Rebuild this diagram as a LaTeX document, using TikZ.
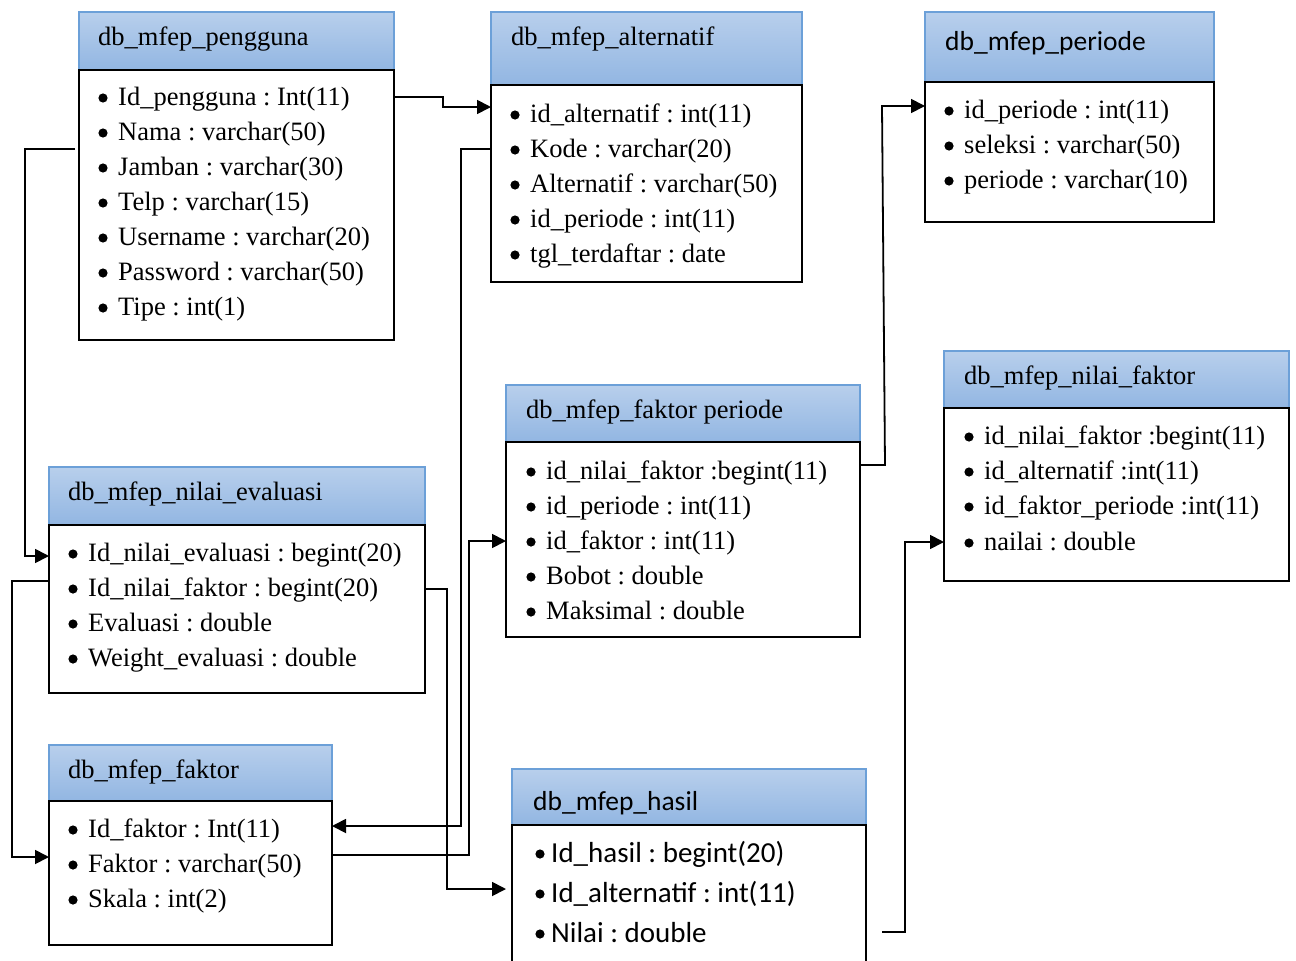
\documentclass[tikz,border=0pt]{standalone}
\usepackage{fontspec}
\setmainfont{Liberation Serif}
\newfontfamily\calfont{Carlito}
\usetikzlibrary{arrows.meta}
\definecolor{hdrtop}{RGB}{184,207,236}
\definecolor{hdrbot}{RGB}{146,182,226}
\definecolor{hdrline}{RGB}{108,160,216}

\begin{document}
\frenchspacing
\begin{tikzpicture}[x=1pt,y=-1pt,
  hdr/.style={draw=hdrline, line width=1.3pt, top color=hdrtop, bottom color=hdrbot,
    anchor=north west, inner sep=0pt, outer sep=0pt},
  body/.style={draw=black, line width=1.4pt, fill=white,
    anchor=north west, inner sep=0pt, outer sep=0pt},
  ttl/.style={anchor=base west, inner sep=0pt, font=\fontsize{26.5}{30}\selectfont},
  calttl/.style={anchor=base west, inner sep=0pt, font=\calfont\fontsize{27.5}{30}\selectfont},
  row/.style={anchor=base west, inner sep=0pt, font=\fontsize{26.5}{30}\selectfont},
  calrow/.style={anchor=base west, inner sep=0pt, font=\calfont\fontsize{29}{30}\selectfont},
  conn/.style={draw=black, line width=1.8pt, -{Triangle[length=14pt,width=14pt]}}
]
\clip (0,0) rectangle (1296,961);
\fill[white] (0,0) rectangle (1296,961);

% db_mfep_pengguna
\node[hdr, minimum width=315pt, minimum height=58pt] (pgH) at (79,12) {};
\node[body, minimum width=315pt, minimum height=270pt] (pgB) at (79,70) {};
\node[ttl] (pgT) at (98,45) {db\_mfep\_pengguna};
\node[row] (pg1) at (118,105) {Id\_pengguna : Int(11)};
\node[row] (pg2) at (118,140) {Nama : varchar(50)};
\node[row] (pg3) at (118,175) {Jamban : varchar(30)};
\node[row] (pg4) at (118,210) {Telp : varchar(15)};
\node[row] (pg5) at (118,245) {Username : varchar(20)};
\node[row] (pg6) at (118,280) {Password : varchar(50)};
\node[row] (pg7) at (118,315) {Tipe : int(1)};

% db_mfep_alternatif
\node[hdr, minimum width=311pt, minimum height=73pt] (alH) at (491,12) {};
\node[body, minimum width=311pt, minimum height=197pt] (alB) at (491,85) {};
\node[ttl] (alT) at (511,45) {db\_mfep\_alternatif};
\node[row] (al1) at (530,122) {id\_alternatif : int(11)};
\node[row] (al2) at (530,157) {Kode : varchar(20)};
\node[row] (al3) at (530,192) {Alternatif : varchar(50)};
\node[row] (al4) at (530,227) {id\_periode : int(11)};
\node[row] (al5) at (530,262) {tgl\_terdaftar : date};

% db_mfep_periode
\node[hdr, minimum width=289pt, minimum height=70pt] (peH) at (925,12) {};
\node[body, minimum width=289pt, minimum height=140pt] (peB) at (925,82) {};
\node[calttl] (peT) at (945,50) {db\_mfep\_periode};
\node[row] (pe1) at (964,118) {id\_periode : int(11)};
\node[row] (pe2) at (964,153) {seleksi : varchar(50)};
\node[row] (pe3) at (964,188) {periode : varchar(10)};

% db_mfep_faktor periode
\node[hdr, minimum width=354pt, minimum height=57pt] (fpH) at (506,385) {};
\node[body, minimum width=354pt, minimum height=195pt] (fpB) at (506,442) {};
\node[ttl] (fpT) at (526,418) {db\_mfep\_faktor periode};
\node[row] (fp1) at (546,479) {id\_nilai\_faktor :begint(11)};
\node[row] (fp2) at (546,514) {id\_periode : int(11)};
\node[row] (fp3) at (546,549) {id\_faktor : int(11)};
\node[row] (fp4) at (546,584) {Bobot : double};
\node[row] (fp5) at (546,619) {Maksimal : double};

% db_mfep_nilai_faktor
\node[hdr, minimum width=345pt, minimum height=57pt] (nfH) at (944,351) {};
\node[body, minimum width=345pt, minimum height=173pt] (nfB) at (944,408) {};
\node[ttl] (nfT) at (964,384) {db\_mfep\_nilai\_faktor};
\node[row] (nf1) at (984,444) {id\_nilai\_faktor :begint(11)};
\node[row] (nf2) at (984,479) {id\_alternatif :int(11)};
\node[row] (nf3) at (984,514) {id\_faktor\_periode :int(11)};
\node[row] (nf4) at (984,550) {nailai : double};

% db_mfep_nilai_evaluasi
\node[hdr, minimum width=376pt, minimum height=58pt] (evH) at (49,467) {};
\node[body, minimum width=376pt, minimum height=168pt] (evB) at (49,525) {};
\node[ttl] (evT) at (68,500) {db\_mfep\_nilai\_evaluasi};
\node[row] (ev1) at (88,561) {Id\_nilai\_evaluasi : begint(20)};
\node[row] (ev2) at (88,596) {Id\_nilai\_faktor : begint(20)};
\node[row] (ev3) at (88,631) {Evaluasi : double};
\node[row] (ev4) at (88,666) {Weight\_evaluasi : double};

% db_mfep_faktor
\node[hdr, minimum width=283pt, minimum height=56pt] (faH) at (49,745) {};
\node[body, minimum width=283pt, minimum height=144pt] (faB) at (49,801) {};
\node[ttl] (faT) at (68,778) {db\_mfep\_faktor};
\node[row] (fa1) at (88,837) {Id\_faktor : Int(11)};
\node[row] (fa2) at (88,872) {Faktor : varchar(50)};
\node[row] (fa3) at (88,907) {Skala : int(2)};

% db_mfep_hasil (runs past the lower edge)
\node[hdr, minimum width=354pt, minimum height=56pt] (haH) at (512,769) {};
\node[body, minimum width=354pt, minimum height=160pt] (haB) at (512,825) {};
\node[calttl] (haT) at (533,810) {db\_mfep\_hasil};
\node[calrow] (ha1) at (551,862) {Id\_hasil : begint(20)};
\node[calrow] (ha2) at (551,902) {Id\_alternatif : int(11)};
\node[calrow] (ha3) at (551,942) {Nilai : double};

% list bullets in front of every field
\foreach \f in {pg1,pg2,pg3,pg4,pg5,pg6,pg7,al1,al2,al3,al4,al5,pe1,pe2,pe3,
                fp1,fp2,fp3,fp4,fp5,nf1,nf2,nf3,nf4,ev1,ev2,ev3,ev4,fa1,fa2,fa3}
  \fill ([xshift=-15pt,yshift=7pt]\f.base west) circle[radius=4.6pt];
\foreach \f in {ha1,ha2,ha3}
  \fill ([xshift=-11pt,yshift=8pt]\f.base west) circle[radius=4.6pt];

% relations
\draw[conn] ([yshift=-27pt]pgB.north east) -- ++(49,0) |- ([yshift=-22pt]alB.north west);
\draw[conn] ([xshift=-4pt,yshift=-79pt]pgB.north west) -- ++(-50,0) |- ([yshift=-31pt]evB.north west);
\draw[conn] ([yshift=-64pt]alB.north west) -- ++(-30,0) |- ([yshift=-25pt]faB.north east);
\draw[conn] ([yshift=-56pt]evB.north west) -- ++(-37,0) |- ([yshift=-56pt]faB.north west);
\draw[conn, shorten >=6pt] ([yshift=-64pt]evB.north east) -- ++(22,0) |- ([yshift=-64pt]haB.north west);
\draw[conn] ([yshift=-54pt]faB.north east) -- ++(137,0) |- ([yshift=-99pt]fpB.north west);
\draw[conn] ([yshift=-23pt]fpB.north east) -- ++(25,0) -- ([xshift=-43pt,yshift=-24pt]peB.north west) -- ([yshift=-24pt]peB.north west);
\draw[conn] ([xshift=16pt,yshift=-107pt]haB.north east) -- ++(23,0) |- ([yshift=-134pt]nfB.north west);
\end{tikzpicture}
\end{document}
